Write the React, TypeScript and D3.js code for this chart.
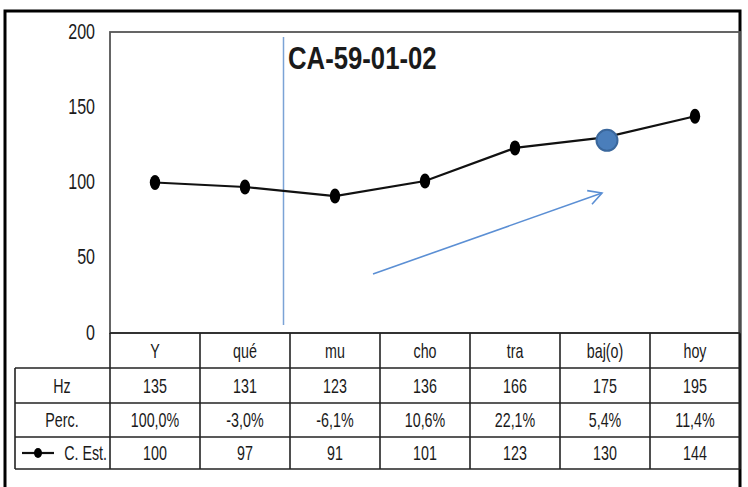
import React from "react";
import * as d3 from "d3";

const categories = ["Y", "qué", "mu", "cho", "tra", "baj(o)", "hoy"];
const hzValues = [135, 131, 123, 136, 166, 175, 195];
const percLabels = ["100,0%", "-3,0%", "-6,1%", "10,6%", "22,1%", "5,4%", "11,4%"];
const estValues = [100, 97, 91, 101, 123, 130, 144];
const yTicks = [0, 50, 100, 150, 200];
const title = "CA-59-01-02";
const highlightIndex = 5;

const FONT = "'Liberation Sans', Arial, sans-serif";

function T({
  x,
  y,
  children,
  size,
  sx,
  anchor = "middle",
  bold = false,
  dy = "0.35em",
}: {
  x: number;
  y: number;
  children: React.ReactNode;
  size: number;
  sx: number;
  anchor?: string;
  bold?: boolean;
  dy?: string;
}) {
  return (
    <text
      transform={`translate(${x},${y}) scale(${sx},1)`}
      dy={dy}
      textAnchor={anchor}
      fontFamily={FONT}
      fontSize={size}
      fontWeight={bold ? "bold" : "normal"}
      fill="#1a1a1a"
    >
      {children}
    </text>
  );
}

export default function App() {
  const W = 748, H = 487;
  const plotL = 110, plotR = 740, plotT = 32, plotB = 333;
  const x = d3.scaleBand<string>().domain(categories).range([plotL, plotR]);
  const y = d3.scaleLinear().domain([0, 200]).range([plotB, plotT]);
  const cx = (c: string) => (x(c) as number) + x.bandwidth() / 2;
  const line = d3
    .line<number>()
    .x((_, i) => cx(categories[i]))
    .y((d) => y(d));

  const rowTops = [333, 368, 403, 437, 469];
  const rowMid = (r: number) => (rowTops[r] + rowTops[r + 1]) / 2;
  const tableL = 15;
  const rows: { label: string; vals: (string | number)[] }[] = [
    { label: "Hz", vals: hzValues },
    { label: "Perc.", vals: percLabels },
    { label: "C. Est.", vals: estValues },
  ];

  const TS = 21, TSX = 0.68;

  const arrowStart = { x: 373, y: 274 };
  const arrowEnd = { x: 602, y: 193 };
  const ang = Math.atan2(arrowEnd.y - arrowStart.y, arrowEnd.x - arrowStart.x);
  const ah = 15;
  const a1 = { x: arrowEnd.x - ah * Math.cos(ang - 0.5), y: arrowEnd.y - ah * Math.sin(ang - 0.5) };
  const a2 = { x: arrowEnd.x - ah * Math.cos(ang + 0.5), y: arrowEnd.y - ah * Math.sin(ang + 0.5) };

  const hi = categories[highlightIndex];

  return (
    <svg width={W} height={H} style={{ position: "absolute", left: 0, top: 0, background: "#fff" }}>
      <rect x={0} y={0} width={W} height={H} fill="#fff" />
      <path d={`M5,490 L5,11 L740,11 L740,490`} fill="none" stroke="#000" strokeWidth={3} />
      <rect x={plotL} y={plotT} width={plotR - plotL} height={plotB - plotT} fill="none" stroke="#555" strokeWidth={1.8} />
      {yTicks.map((t) => (
        <T key={t} x={95} y={y(t) - 1} size={22} sx={0.73} anchor="end">
          {t}
        </T>
      ))}
      <line x1={283.5} x2={283.5} y1={37} y2={325} stroke="#7ba3d6" strokeWidth={1.5} />
      <T x={288} y={69} size={31} sx={0.83} anchor="start" bold dy="0">
        {title}
      </T>
      <line x1={arrowStart.x} y1={arrowStart.y} x2={arrowEnd.x} y2={arrowEnd.y} stroke="#5b8fd4" strokeWidth={1.6} />
      <polyline
        points={`${a1.x},${a1.y} ${arrowEnd.x},${arrowEnd.y} ${a2.x},${a2.y}`}
        fill="none"
        stroke="#5b8fd4"
        strokeWidth={1.6}
      />
      <path d={line(estValues) || ""} fill="none" stroke="#111" strokeWidth={2.2} />
      {estValues.map((v, i) =>
        i === highlightIndex ? null : (
          <ellipse key={i} cx={cx(categories[i])} cy={y(v)} rx={5.2} ry={7.5} fill="#000" />
        )
      )}
      <circle cx={cx(hi) + 2} cy={y(estValues[highlightIndex]) + 3} r={10.5} fill="#4a7ebb" stroke="#3a679c" strokeWidth={2} />

      <g stroke="#222" strokeWidth={1.6} fill="none">
        <line x1={plotL} x2={plotR} y1={rowTops[0]} y2={rowTops[0]} />
        {rowTops.slice(1).map((t) => (
          <line key={t} x1={tableL} x2={plotR} y1={t} y2={t} />
        ))}
        <line x1={tableL} x2={tableL} y1={rowTops[1]} y2={rowTops[4]} />
        {categories.map((c) => (
          <line key={c} x1={x(c) as number} x2={x(c) as number} y1={rowTops[0]} y2={rowTops[4]} />
        ))}
        <line x1={plotR} x2={plotR} y1={rowTops[0]} y2={rowTops[4]} />
      </g>
      {categories.map((c) => (
        <T key={c} x={cx(c)} y={rowMid(0)} size={TS} sx={TSX}>
          {c}
        </T>
      ))}
      {rows.map((r, ri) => (
        <g key={r.label}>
          {ri === 2 ? (
            <g>
              <line x1={22} x2={54} y1={rowMid(3)} y2={rowMid(3)} stroke="#111" strokeWidth={2.2} />
              <ellipse cx={38} cy={rowMid(3)} rx={4} ry={5} fill="#000" />
              <T x={107} y={rowMid(3)} size={TS} sx={TSX} anchor="end">
                {r.label}
              </T>
            </g>
          ) : (
            <T x={62} y={rowMid(ri + 1)} size={TS} sx={TSX}>
              {r.label}
            </T>
          )}
          {r.vals.map((v, i) => (
            <T key={i} x={cx(categories[i])} y={rowMid(ri + 1)} size={TS} sx={TSX}>
              {v}
            </T>
          ))}
        </g>
      ))}
    </svg>
  );
}
